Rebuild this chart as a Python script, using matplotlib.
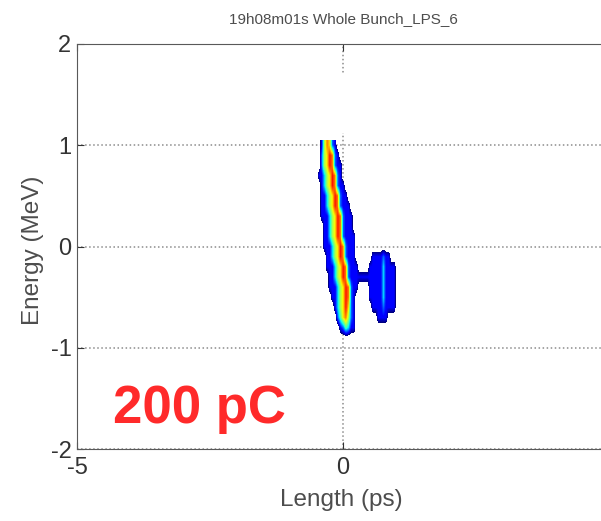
import numpy as np
import matplotlib.pyplot as plt
from matplotlib.colors import Normalize
from matplotlib.patches import FancyBboxPatch

plt.rcParams['font.family'] = ['Liberation Sans', 'DejaVu Sans']
plt.rcParams['axes.unicode_minus'] = False

# bunch density, one string per energy row (top to bottom),
# one digit per length column starting at length_start
energy_rows = [1.0, 0.9, 0.8, 0.7, 0.6, 0.5, 0.4, 0.3, 0.2, 0.1,
               0.0, -0.1, -0.2, -0.3, -0.4, -0.5, -0.6, -0.7, -0.8, -0.9]
length_start = -0.5
length_step = 0.05
n_columns = 32
density_rows = [
    "00268732",
    "003679832",
    "0036798322",
    "0224679832",
    "00246798322",
    "002246798322",
    "0022467983222",
    "00222467983222",
    "00022467983222",
    "000224679832222",
    "000222467983222",
    "0000224679832220000002222322",
    "000022246798322200002222242222",
    "000002246798322222222222242222",
    "000002224679832200002222242222",
    "000000224679832000002222242222",
    "000000024679732000000222232222",
    "000000003578632000000002222",
    "000000000235422",
    "",
]

x_ticks = [-5, 0, 5]
y_ticks = [-2, -1, 0, 1, 2]
title = "19h08m01s Whole Bunch_LPS_6"
charge_label = "200 pC"

density = np.array([[int(c) for c in row.ljust(n_columns, "0")]
                    for row in density_rows], dtype=float)
energy_step = energy_rows[0] - energy_rows[1]
extent = [length_start - length_step / 2,
          length_start + (n_columns - 0.5) * length_step,
          energy_rows[-1] - energy_step / 2,
          energy_rows[0] + energy_step / 2]

cmap = plt.get_cmap("jet").copy()
cmap.set_under((1, 1, 1, 0))

fig = plt.figure(figsize=(6.01, 5.21), dpi=100)
ax = fig.add_axes([77 / 601, 72 / 521, 532 / 601, 405 / 521])

ax.imshow(density, extent=extent, origin="upper", cmap=cmap,
          norm=Normalize(vmin=1, vmax=10), interpolation="bilinear",
          interpolation_stage="data", aspect="auto", zorder=2)

ax.set_xlim(-5, 5)
ax.set_ylim(-2, 2)
ax.set_xticks(x_ticks)
ax.set_yticks(y_ticks)
ax.grid(True, linestyle=":", color="0.55", linewidth=1.1)
ax.set_axisbelow(True)
ax.tick_params(direction="in", length=5, top=True, right=True,
               labelsize=17, colors="0.2")
ax.tick_params(axis="y", pad=4)
ax.tick_params(axis="x", pad=6)
for spine in ax.spines.values():
    spine.set_color("0.35")

ax.text(-2.69, -1.6, charge_label, color="#ff2a2a", fontsize=38,
        fontweight="bold", ha="center", va="center", zorder=4)

fig.text(343 / 601, 1 - 19 / 521, title, ha="center", va="center",
         fontsize=11, color="0.3")
fig.text(341 / 601, 1 - 500 / 521, "Length (ps)", ha="center",
         va="center", fontsize=17.5, color="0.3")
fig.text(33 / 601, 1 - 250 / 521, "Energy (MeV)", ha="center",
         va="center", rotation=90, fontsize=17.5, color="0.3")

# blank label box over the upper left of the plot
fig.add_artist(FancyBboxPatch((79 / 601, 1 - 133 / 521), 522 / 601, 60 / 521,
                              boxstyle="round,pad=0,rounding_size=0.02",
                              transform=fig.transFigure, facecolor="white",
                              edgecolor="none", zorder=5))

fig.savefig("out.png", dpi=100)
